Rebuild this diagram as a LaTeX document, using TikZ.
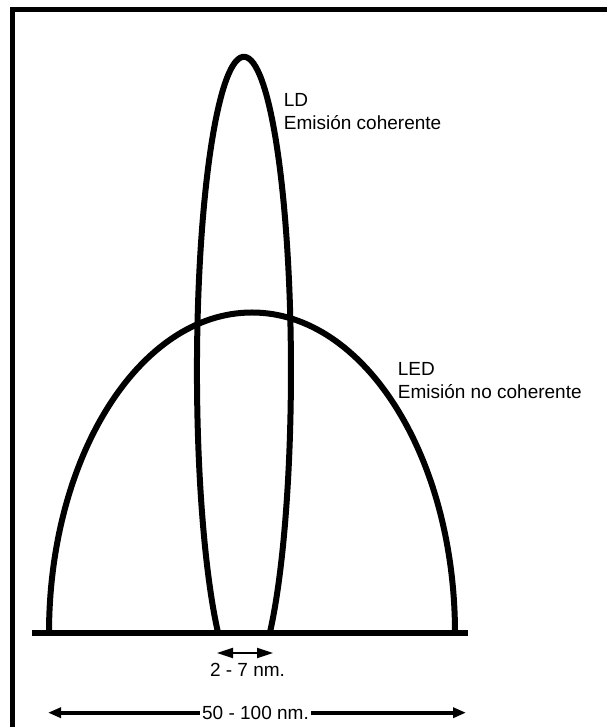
\documentclass[tikz,border=0pt]{standalone}
\usepackage{fontspec}
\setmainfont{Liberation Sans}
\usetikzlibrary{arrows.meta}

\begin{document}
\begin{tikzpicture}[x=0.5pt, y=0.5pt,
      every node/.style={font=\fontsize{9.5}{11.5}\selectfont, inner sep=0pt},
      curve/.style={line width=3pt},
      dimarrow/.style={{Triangle[length=8pt,width=5pt]}-{Triangle[length=8pt,width=5pt]}}]
    \useasboundingbox (0,0) rectangle (607,727);
    % frame
    \draw[line width=2.5pt] (12.5,0) -- (12.5,717.8) -- (607,717.8);
    % base line
    \draw[line width=3pt] (32,93.5) -- (468,93.5);
    % LED
    \draw[curve] (49,93.5) arc[start angle=180, end angle=0, x radius=203, y radius=321];
    % LD
    \coordinate (ldR) at (269.7,93.5);
    \draw[curve] (ldR) arc[start angle=-56.78, end angle=236.78, x radius=47, y radius=314];
    % labels
    \node[anchor=north west, align=left] (ld) at (283.5,633.7) {LD\\Emisión coherente};
    \node[anchor=north west, align=left] (led) at (397.5,365.3) {LED\\Emisión no coherente};
    % widths
    \coordinate (nl) at (217,74);
    \coordinate (nr) at (273,74);
    \draw[dimarrow, line width=1pt] (nl) -- (nr);
    \node (narrow) at (247.5,57.3) {2 - 7 nm.};
    \coordinate (wl) at (48,14.3);
    \coordinate (wr) at (466,14.3);
    \node (wide) at (255.5,14.3) {50 - 100 nm.};
    \draw[line width=2pt, {Triangle[length=6.5pt,width=5pt]}-] (wl) -- ([xshift=-1pt]wide.west);
    \draw[line width=2pt, -{Triangle[length=6.5pt,width=5pt]}] ([xshift=1pt]wide.east) -- (wr);
\end{tikzpicture}
\end{document}
